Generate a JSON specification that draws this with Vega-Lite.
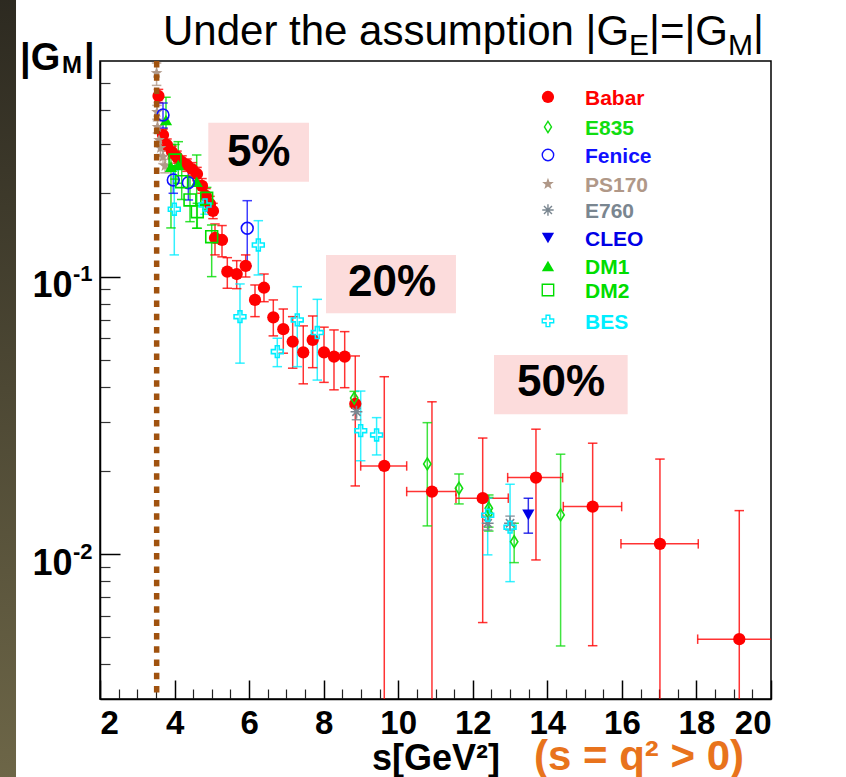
{
"$schema": "https://vega.github.io/schema/vega-lite/v6.json",
"width": 671, "height": 638,
"autosize": {"type": "none"},
"padding": {"left": 100, "top": 61, "right": 75, "bottom": 78},
"background": "white",
"config": {"font": "Liberation Sans", "view": {"stroke": "black", "strokeWidth": 1.5}, "axis": {"grid": false}},
"datasets": {
"strip": [{"x1": -0.683, "x2": -0.253, "y1": 1.1, "y2": 0.0014}],
"boxes": [
{"label": "5%", "x1": 4.905, "x2": 7.606, "y1": 0.3594, "y2": 0.2202, "tx": 6.257, "ty": 0.2508},
{"label": "20%", "x1": 8.062, "x2": 11.549, "y1": 0.1199, "y2": 0.0739, "tx": 9.833, "ty": 0.0852},
{"label": "50%", "x1": 12.569, "x2": 16.155, "y1": 0.0522, "y2": 0.0319, "tx": 14.366, "ty": 0.03715}
],
"thr": [{"s": 3.52, "top": 0.6, "bottom": 0.003}],
"pts": [
{"e":"Babar","s":3.569,"g":0.4487,"lo":0.425,"hi":0.474},
{"e":"Babar","s":3.690,"g":0.3245,"lo":0.309,"hi":0.341},
{"e":"Babar","s":3.797,"g":0.2987,"lo":0.284,"hi":0.314},
{"e":"Babar","s":3.931,"g":0.2818,"lo":0.268,"hi":0.296},
{"e":"Babar","s":4.065,"g":0.2704,"lo":0.257,"hi":0.284},
{"e":"Babar","s":4.200,"g":0.2594,"lo":0.246,"hi":0.273},
{"e":"Babar","s":4.334,"g":0.2530,"lo":0.240,"hi":0.266},
{"e":"Babar","s":4.468,"g":0.2447,"lo":0.232,"hi":0.258},
{"e":"Babar","s":4.602,"g":0.2348,"lo":0.222,"hi":0.248},
{"e":"Babar","s":4.736,"g":0.2126,"lo":0.200,"hi":0.226},
{"e":"Babar","s":4.843,"g":0.1956,"lo":0.184,"hi":0.208},
{"e":"Babar","s":4.951,"g":0.1830,"lo":0.172,"hi":0.195},
{"e":"Babar","s":5.031,"g":0.1727,"lo":0.162,"hi":0.184},
{"e":"Babar","s":5.085,"g":0.1380,"lo":0.1199,"hi":0.1550},
{"e":"Babar","s":5.273,"g":0.1357,"lo":0.118,"hi":0.153},
{"e":"Babar","s":5.415,"g":0.1043,"lo":0.0909,"hi":0.1172},
{"e":"Babar","s":5.667,"g":0.1023,"lo":0.0906,"hi":0.1143},
{"e":"Babar","s":5.908,"g":0.1094,"lo":0.0998,"hi":0.1199},
{"e":"Babar","s":6.158,"g":0.0825,"lo":0.0718,"hi":0.0934},
{"e":"Babar","s":6.399,"g":0.0913,"lo":0.0813,"hi":0.1023},
{"e":"Babar","s":6.649,"g":0.0714,"lo":0.0612,"hi":0.0825},
{"e":"Babar","s":6.917,"g":0.0647,"lo":0.0530,"hi":0.0765},
{"e":"Babar","s":7.169,"g":0.0583,"lo":0.0468,"hi":0.0718},
{"e":"Babar","s":7.453,"g":0.0534,"lo":0.0411,"hi":0.0665},
{"e":"Babar","s":7.705,"g":0.0592,"lo":0.0470,"hi":0.0722},
{"e":"Babar","s":8.009,"g":0.0534,"lo":0.0416,"hi":0.0658},
{"e":"Babar","s":8.277,"g":0.0515,"lo":0.0391,"hi":0.0643},
{"e":"Babar","s":8.564,"g":0.0515,"lo":0.0398,"hi":0.0634},
{"e":"Babar","s":8.848,"g":0.0348,"lo":0.0176,"hi":0.0518},
{"e":"Babar","s":9.626,"g":0.02078,"lo":0.001,"hi":0.0436,"xlo":8.993,"xhi":10.227},
{"e":"Babar","s":10.905,"g":0.0168,"lo":0.001,"hi":0.0354,"xlo":10.227,"xhi":11.549},
{"e":"Babar","s":12.266,"g":0.0159,"lo":0.00566,"hi":0.0262,"xlo":11.549,"xhi":12.952},
{"e":"Babar","s":13.695,"g":0.01886,"lo":0.00952,"hi":0.0282,"xlo":12.936,"xhi":14.411},
{"e":"Babar","s":15.216,"g":0.01483,"lo":0.00467,"hi":0.0251,"xlo":14.428,"xhi":15.994},
{"e":"Babar","s":17.021,"g":0.01088,"lo":0.001,"hi":0.0220,"xlo":15.975,"xhi":18.049},
{"e":"Babar","s":19.149,"g":0.00493,"lo":0.001,"hi":0.01434,"xlo":18.033,"xhi":20.3},
{"e":"E835","s":8.82,"g":0.0365,"lo":0.034,"hi":0.0386},
{"e":"E835","s":10.78,"g":0.02113,"lo":0.01263,"hi":0.02977},
{"e":"E835","s":11.63,"g":0.01727,"lo":0.01516,"hi":0.01944},
{"e":"E835","s":12.43,"g":0.01463,"lo":0.0125,"hi":0.01633},
{"e":"E835","s":12.43,"g":0.01404,"lo":0.0121,"hi":0.0160},
{"e":"E835","s":13.11,"g":0.01108,"lo":0.00931,"hi":0.01291},
{"e":"E835","s":14.356,"g":0.01384,"lo":0.00466,"hi":0.02291},
{"e":"Fenice","s":3.69,"g":0.3834,"lo":0.344,"hi":0.4233},
{"e":"Fenice","s":3.966,"g":0.2234,"lo":0.2,"hi":0.25},
{"e":"Fenice","s":4.37,"g":0.2184,"lo":0.1892,"hi":0.2495},
{"e":"Fenice","s":5.95,"g":0.1496,"lo":0.1094,"hi":0.1881},
{"e":"PS170","s":3.518,"g":0.543,"lo":0.49,"hi":0.59},
{"e":"PS170","s":3.529,"g":0.3929,"lo":0.37,"hi":0.415},
{"e":"PS170","s":3.542,"g":0.3469,"lo":0.33,"hi":0.365},
{"e":"PS170","s":3.583,"g":0.3113,"lo":0.295,"hi":0.328},
{"e":"PS170","s":3.623,"g":0.2914,"lo":0.276,"hi":0.307},
{"e":"PS170","s":3.690,"g":0.2704,"lo":0.256,"hi":0.285},
{"e":"PS170","s":3.744,"g":0.2509,"lo":0.237,"hi":0.265},
{"e":"E760","s":8.88,"g":0.0326,"lo":0.0305,"hi":0.0348},
{"e":"E760","s":12.40,"g":0.01291,"lo":0.0122,"hi":0.0137},
{"e":"E760","s":13.00,"g":0.01291,"lo":0.0122,"hi":0.0137},
{"e":"CLEO","s":13.49,"g":0.01384,"lo":0.01189,"hi":0.01589},
{"e":"DM1","s":3.770,"g":0.3676,"lo":0.30,"hi":0.444},
{"e":"DM1","s":3.904,"g":0.2495,"lo":0.15,"hi":0.30},
{"e":"DM1","s":4.10,"g":0.253,"lo":0.2174,"hi":0.307},
{"e":"DM1","s":4.594,"g":0.2202,"lo":0.1496,"hi":0.2749},
{"e":"DM2","s":4.012,"g":0.2637,"lo":0.225,"hi":0.30},
{"e":"DM2","s":4.192,"g":0.2202,"lo":0.19,"hi":0.25},
{"e":"DM2","s":4.414,"g":0.1892,"lo":0.158,"hi":0.2296},
{"e":"DM2","s":4.61,"g":0.1717,"lo":0.1496,"hi":0.184},
{"e":"DM2","s":4.862,"g":0.1919,"lo":0.175,"hi":0.21},
{"e":"DM2","s":4.996,"g":0.1395,"lo":0.1001,"hi":0.1537},
{"e":"BES","s":3.993,"g":0.1752,"lo":0.1199,"hi":0.2427},
{"e":"BES","s":4.817,"g":0.1815,"lo":0.168,"hi":0.196},
{"e":"BES","s":5.755,"g":0.0718,"lo":0.0488,"hi":0.0942},
{"e":"BES","s":6.247,"g":0.1302,"lo":0.1015,"hi":0.1593},
{"e":"BES","s":6.756,"g":0.0537,"lo":0.0474,"hi":0.0600},
{"e":"BES","s":7.292,"g":0.0699,"lo":0.0474,"hi":0.0921},
{"e":"BES","s":7.829,"g":0.0629,"lo":0.0424,"hi":0.0829},
{"e":"BES","s":8.993,"g":0.02786,"lo":0.0217,"hi":0.0387},
{"e":"BES","s":9.42,"g":0.02689,"lo":0.02277,"hi":0.03104},
{"e":"BES","s":12.40,"g":0.0138,"lo":0.00993,"hi":0.0159},
{"e":"BES","s":13.0,"g":0.0125,"lo":0.00795,"hi":0.01785}
],
"leg": [
{"e":"Babar","s":14.017,"sl":15.01,"g":0.4450},
{"e":"E835","s":14.017,"sl":15.01,"g":0.3469},
{"e":"Fenice","s":14.017,"sl":15.01,"g":0.2749},
{"e":"PS170","s":14.017,"sl":15.01,"g":0.2161},
{"e":"E760","s":14.017,"sl":15.01,"g":0.1741},
{"e":"CLEO","s":14.017,"sl":15.01,"g":0.1380},
{"e":"DM1","s":14.017,"sl":15.01,"g":0.1094},
{"e":"DM2","s":14.017,"sl":15.01,"g":0.0896},
{"e":"BES","s":14.017,"sl":15.01,"g":0.0693}
],
"title": [
{"t":"Under the assumption |G","s":3.69,"g":0.6853},
{"t":"|=|G","s":16.727,"g":0.6853},
{"t":"|","s":19.516,"g":0.6853}
],
"titlesub": [
{"t":"E","s":16.19,"g":0.6306},
{"t":"M","s":18.845,"g":0.6306}
],
"ytitle": [
{"t":"|G","s":-0.146,"g":0.5566},
{"t":"|","s":1.57,"g":0.5566}
],
"ytitlesub": [{"t":"M","s":0.98,"g":0.543}],
"xtitle": [{"t":"s[GeV²]","s":11.013,"g":0.001663}],
"xnote": [{"t":"(s = q² > 0)","s":13.642,"g":0.001663}]
},
"resolve": {"axis": {"x": "independent", "y": "independent"}},
"layer": [
{
"data": {"name": "strip"},
"mark": {"type": "rect", "fill": {"gradient": "linear", "x1": 0, "y1": 0, "x2": 0, "y2": 1, "stops": [{"offset": 0, "color": "#2c2920"}, {"offset": 1, "color": "#6e6748"}]}},
"encoding": {
"x": {"field": "x1", "type": "quantitative", "scale": {"domain": [2, 20], "nice": false, "zero": false},
"axis": {"orient": "bottom", "values": [2.5,3,3.5,4.5,5,5.5,6.5,7,7.5,8.5,9,9.5,10.5,11,11.5,12.5,13,13.5,14.5,15,15.5,16.5,17,17.5,18.5,19,19.5], "labels": false, "tickSize": -10, "tickColor": "#222", "tickWidth": 1.2, "domain": false, "title": null}},
"x2": {"field": "x2"},
"y": {"field": "y1", "type": "quantitative", "scale": {"type": "log", "domain": [0.003, 0.6], "nice": false},
"axis": {"orient": "left", "values": [0.004,0.005,0.006,0.007,0.008,0.009,0.02,0.03,0.04,0.05,0.06,0.07,0.08,0.09,0.2,0.3,0.4,0.5], "labels": false, "tickSize": -10, "tickColor": "#333", "tickWidth": 1.2, "domain": false, "title": null}},
"y2": {"field": "y2"}
}
},
{
"data": {"name": "boxes"},
"mark": {"type": "rect", "fill": "#fcdcdc"},
"encoding": {
"x": {"field": "x1", "type": "quantitative", "axis": null}, "x2": {"field": "x2"},
"y": {"field": "y1", "type": "quantitative",
"axis": {"orient": "left", "values": [0.01, 0.1], "ticks": false, "domain": false, "labelPadding": 8, "labelOffset": -3, "labelFontSize": 22, "labelFontWeight": "bold", "labelColor": "black", "labelFont": "Liberation Sans", "labelExpr": "datum.value < 0.05 ? '-2' : '-1'", "title": null}},
"y2": {"field": "y2"}
}
},
{
"data": {"name": "boxes"},
"mark": {"type": "text", "fontSize": 44, "fontWeight": "bold", "color": "black", "align": "center", "baseline": "alphabetic"},
"encoding": {
"x": {"field": "tx", "type": "quantitative", "axis": null},
"y": {"field": "ty", "type": "quantitative", "axis": null},
"text": {"field": "label"}
}
},
{
"data": {"name": "pts"},
"mark": {"type": "rule", "clip": true, "strokeWidth": 1.5, "opacity": 0.8},
"encoding": {
"x": {"field": "s", "type": "quantitative",
"axis": {"orient": "bottom", "values": [2,4,6,8,10,12,14,16,18,20], "tickSize": -19, "tickColor": "black", "tickWidth": 1.5, "domain": true, "domainColor": "black", "domainWidth": 1.5, "labelPadding": 27, "labelFontSize": 33, "labelFontWeight": "bold", "labelColor": "black", "labelFont": "Liberation Sans", "title": null}},
"y": {"field": "lo", "type": "quantitative",
"axis": {"orient": "left", "values": [0.01, 0.1], "tickSize": -20, "tickColor": "black", "tickWidth": 1.5, "domain": true, "domainColor": "black", "domainWidth": 1.5, "labelPadding": 48, "labelOffset": 9, "labelFontSize": 36, "labelFontWeight": "bold", "labelColor": "black", "labelFont": "Liberation Sans", "labelExpr": "'10'", "title": null}},
"y2": {"field": "hi"},
"color": {"field": "e", "type": "nominal", "legend": null,
"scale": {"domain": ["Babar","E835","Fenice","PS170","E760","CLEO","DM1","DM2","BES"], "range": ["#ff0000","#11dd11","#1010ff","#b09888","#7a8690","#0000e6","#00dd00","#00dd00","#00eeff"]}}
}
},
{
"data": {"name": "pts"},
"transform": [{"filter": "isValid(datum.xlo)"}],
"mark": {"type": "rule", "clip": true, "strokeWidth": 1.5, "opacity": 0.8},
"encoding": {
"x": {"field": "xlo", "type": "quantitative", "axis": null},
"x2": {"field": "xhi"},
"y": {"field": "g", "type": "quantitative", "axis": null},
"color": {"field": "e", "type": "nominal", "legend": null}
}
},
{
"data": {"name": "pts"},
"transform": [{"fold": ["lo", "hi"], "as": ["end", "v"]}, {"filter": "isValid(datum.v) && datum.v >= 0.003"}],
"mark": {"type": "point", "shape": "M-1,0L1,0", "size": 90, "strokeWidth": 1.5, "opacity": 0.8, "filled": false},
"encoding": {
"x": {"field": "s", "type": "quantitative", "axis": null},
"y": {"field": "v", "type": "quantitative", "axis": null},
"color": {"field": "e", "type": "nominal", "legend": null}
}
},
{
"data": {"name": "pts"},
"transform": [{"fold": ["xlo", "xhi"], "as": ["end", "v"]}, {"filter": "isValid(datum.v) && datum.v <= 20"}],
"mark": {"type": "point", "shape": "M0,-1L0,1", "size": 90, "strokeWidth": 1.5, "opacity": 0.8, "filled": false},
"encoding": {
"x": {"field": "v", "type": "quantitative", "axis": null},
"y": {"field": "g", "type": "quantitative", "axis": null},
"color": {"field": "e", "type": "nominal", "legend": null}
}
},
{
"data": {"name": "pts"},
"transform": [{"filter": "indexof(['Babar','PS170','CLEO','DM1'], datum.e) >= 0"}],
"mark": {"type": "point", "filled": true, "size": 150, "opacity": 1},
"encoding": {
"x": {"field": "s", "type": "quantitative", "axis": null},
"y": {"field": "g", "type": "quantitative", "axis": null},
"color": {"field": "e", "type": "nominal", "legend": null},
"shape": {"field": "e", "type": "nominal", "legend": null,
"scale": {"domain": ["Babar","E835","Fenice","PS170","E760","CLEO","DM1","DM2","BES"], "range": ["circle","M0,-1L0.62,0L0,1L-0.62,0Z","circle","M0,-1L0.247,-0.34L0.951,-0.309L0.399,0.13L0.588,0.809L0,0.42L-0.588,0.809L-0.399,0.13L-0.951,-0.309L-0.247,-0.34Z","M0,-1L0,1M-1,0L1,0M-0.7,-0.7L0.7,0.7M-0.7,0.7L0.7,-0.7","triangle-down","triangle-up","square","M-0.33,-1L0.33,-1L0.33,-0.33L1,-0.33L1,0.33L0.33,0.33L0.33,1L-0.33,1L-0.33,0.33L-1,0.33L-1,-0.33L-0.33,-0.33Z"]}}
}
},
{
"data": {"name": "pts"},
"transform": [{"filter": "indexof(['Babar','PS170','CLEO','DM1'], datum.e) < 0"}],
"mark": {"type": "point", "filled": false, "size": 140, "strokeWidth": 1.6, "opacity": 1},
"encoding": {
"x": {"field": "s", "type": "quantitative", "axis": null},
"y": {"field": "g", "type": "quantitative", "axis": null},
"color": {"field": "e", "type": "nominal", "legend": null},
"shape": {"field": "e", "type": "nominal", "legend": null}
}
},
{
"data": {"name": "thr"},
"mark": {"type": "rule", "color": "#a0520e", "strokeWidth": 5.5, "strokeDash": [6.5, 6.8], "strokeCap": "butt"},
"encoding": {
"x": {"field": "s", "type": "quantitative", "axis": null},
"y": {"field": "top", "type": "quantitative", "axis": null},
"y2": {"field": "bottom"}
}
},
{
"data": {"name": "leg"},
"transform": [{"filter": "indexof(['Babar','PS170','CLEO','DM1'], datum.e) >= 0"}],
"mark": {"type": "point", "filled": true, "size": 150, "opacity": 1},
"encoding": {
"x": {"field": "s", "type": "quantitative", "axis": null},
"y": {"field": "g", "type": "quantitative", "axis": null},
"color": {"field": "e", "type": "nominal", "legend": null},
"shape": {"field": "e", "type": "nominal", "legend": null}
}
},
{
"data": {"name": "leg"},
"transform": [{"filter": "indexof(['Babar','PS170','CLEO','DM1'], datum.e) < 0"}],
"mark": {"type": "point", "filled": false, "size": 130, "strokeWidth": 1.4, "opacity": 1},
"encoding": {
"x": {"field": "s", "type": "quantitative", "axis": null},
"y": {"field": "g", "type": "quantitative", "axis": null},
"color": {"field": "e", "type": "nominal", "legend": null},
"shape": {"field": "e", "type": "nominal", "legend": null}
}
},
{
"data": {"name": "leg"},
"mark": {"type": "text", "fontSize": 21, "fontWeight": "bold", "align": "left", "baseline": "middle", "dy": 2},
"encoding": {
"x": {"field": "sl", "type": "quantitative", "axis": null},
"y": {"field": "g", "type": "quantitative", "axis": null},
"text": {"field": "e"},
"color": {"field": "e", "type": "nominal", "legend": null}
}
},
{
"data": {"name": "title"},
"mark": {"type": "text", "fontSize": 42, "align": "left", "baseline": "alphabetic", "color": "black"},
"encoding": {
"x": {"field": "s", "type": "quantitative", "axis": null},
"y": {"field": "g", "type": "quantitative", "axis": null},
"text": {"field": "t"}
}
},
{
"data": {"name": "titlesub"},
"mark": {"type": "text", "fontSize": 30, "align": "left", "baseline": "alphabetic", "color": "black"},
"encoding": {
"x": {"field": "s", "type": "quantitative", "axis": null},
"y": {"field": "g", "type": "quantitative", "axis": null},
"text": {"field": "t"}
}
},
{
"data": {"name": "ytitle"},
"mark": {"type": "text", "fontSize": 38, "fontWeight": "bold", "align": "left", "baseline": "alphabetic", "color": "black"},
"encoding": {
"x": {"field": "s", "type": "quantitative", "axis": null},
"y": {"field": "g", "type": "quantitative", "axis": null},
"text": {"field": "t"}
}
},
{
"data": {"name": "ytitlesub"},
"mark": {"type": "text", "fontSize": 24, "fontWeight": "bold", "align": "left", "baseline": "alphabetic", "color": "black"},
"encoding": {
"x": {"field": "s", "type": "quantitative", "axis": null},
"y": {"field": "g", "type": "quantitative", "axis": null},
"text": {"field": "t"}
}
},
{
"data": {"name": "xtitle"},
"mark": {"type": "text", "fontSize": 36, "fontWeight": "bold", "align": "center", "baseline": "alphabetic", "color": "black"},
"encoding": {
"x": {"field": "s", "type": "quantitative", "axis": null},
"y": {"field": "g", "type": "quantitative", "axis": null},
"text": {"field": "t"}
}
},
{
"data": {"name": "xnote"},
"mark": {"type": "text", "fontSize": 42, "fontWeight": "bold", "align": "left", "baseline": "alphabetic", "color": "#e8731c"},
"encoding": {
"x": {"field": "s", "type": "quantitative", "axis": null},
"y": {"field": "g", "type": "quantitative", "axis": null},
"text": {"field": "t"}
}
}
]
}
